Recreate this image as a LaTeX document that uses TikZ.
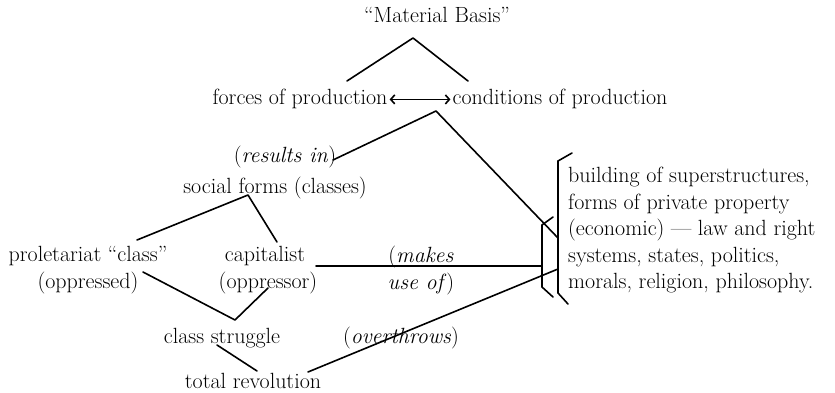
\documentclass[tikz,border=0pt]{standalone}
\usepackage{fontspec}
\usetikzlibrary{calc, positioning}
\usetikzlibrary{arrows.meta}

\begin{document}
\begin{tikzpicture}[x=1pt, y=-1pt, line join=round, line cap=round,
    every node/.style={font=\fontsize{22}{26.5}\selectfont, inner sep=2pt},
    txt/.style={anchor=base},
    stroke/.style={line width=1.6pt}]
\useasboundingbox (0,0) rectangle (835,393);

\node[txt] (basis) at (437,23) {``Material Basis''};
\node[txt] (forces) at (300,105) {forces of production};
\node[txt] (conditions) at (560,105) {conditions of production};
\node[txt] (resultsin) at (285,162) {(\textit{results in})};
\node[txt] (social) at (275,193) {social forms (classes)};
\node[txt] (proletariat) at (88,261) {proletariat ``class''};
\node[txt] (oppressed) at (88,288) {(oppressed)};
\node[txt] (capitalist) at (265,261) {capitalist};
\node[txt] (oppressor) at (268,288) {(oppressor)};
\node[txt] (makes) at (421,262) {(\textit{makes}};
\node[txt] (useof) at (421,289) {\textit{use of\/})};
\node[txt] (struggle) at (222,343) {class struggle};
\node[txt] (overthrows) at (401,343) {(\textit{overthrows})};
\node[txt, inner sep=0pt] (revolution) at (253,388) {total revolution};
\node[anchor=north west, align=left, inner sep=0pt] (superstructure) at (568,167)
    {building of superstructures,\\ forms of private property\\
     (economic) --- law and right\\ systems, states, politics,\\
     morals, religion, philosophy.};

\coordinate (basisApex) at (413,38);
\coordinate (forcesTop) at (347,81);
\coordinate (conditionsTop) at (468,81);
\coordinate (conditionsApex) at (436,111);
\coordinate (resultsEnd) at (333,160);
\coordinate (bigBar) at (558,238);
\coordinate (socialApex) at (248,195);
\coordinate (proletariatTop) at (137,240);
\coordinate (capitalistTop) at (277,242);
\coordinate (makesStart) at (316,266);
\coordinate (smallBar) at (542,266);
\coordinate (oppressedEnd) at (143,272);
\coordinate (oppressorEnd) at (268,288);
\coordinate (struggleApex) at (235,320);
\coordinate (struggleEnd) at (217,345);
\coordinate (revolutionTop) at (257,371);
\coordinate (revolutionEnd) at (308,372);
\coordinate (overthrowEnd) at (558,269);

\draw[stroke] (forcesTop) -- (basisApex) -- (conditionsTop);
\draw[stroke, {Straight Barb[length=4pt, width=9pt]}-{Straight Barb[length=4pt, width=9pt]}]
    (forces.east) -- (conditions.west);
\draw[stroke] (resultsEnd) -- (conditionsApex) -- (bigBar);
\draw[stroke] (proletariatTop) -- (socialApex) -- (capitalistTop);
\draw[stroke] (makesStart) -- (smallBar);
\draw[stroke] (oppressedEnd) -- (struggleApex) -- (oppressorEnd);
\draw[stroke] (struggleEnd) -- (revolutionTop);
\draw[stroke] (revolutionEnd) -- (overthrowEnd);

% brackets round the superstructure
\draw[stroke, line join=miter] (572,153) -- (558,161) -- (558,293) -- (568,304);
\draw[stroke, line join=miter] (553,217) -- (542,225) -- (542,287) -- (553,297);
\end{tikzpicture}
\end{document}
